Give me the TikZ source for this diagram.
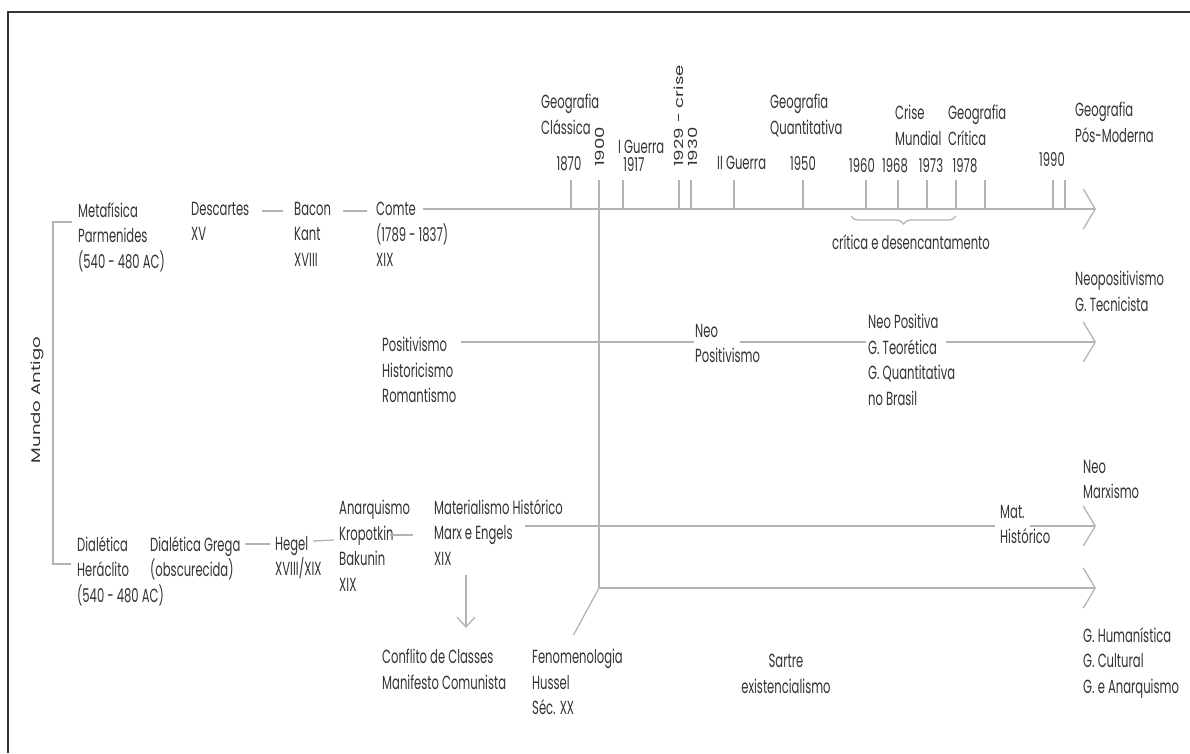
\documentclass[tikz,border=0pt]{standalone}
\usepackage{fontspec}
\setmainfont{Poppins}[FakeStretch=0.61]
\newfontfamily\vertfont{Poppins}[FakeStretch=1.45]
\usetikzlibrary{arrows.meta,calc,decorations.pathreplacing}

\definecolor{ink}{HTML}{333333}
\definecolor{rule}{HTML}{B4B4B4}

\begin{document}
\begin{tikzpicture}[x=1pt,y=-1pt,
  lbl/.style={font=\fontsize{19}{25.5}\selectfont, text=ink, inner sep=0pt, align=left, anchor=north west},
  yr/.style={lbl, anchor=center},
  vlbl/.style={font=\vertfont\fontsize{12.5}{15}\selectfont, text=ink, inner sep=0pt, rotate=90, anchor=west},
  ln/.style={draw=rule, line width=1.3pt},
  arr/.style={ln, -{Straight Barb[length=12pt,width=40pt,line width=1.3pt]}},
  darr/.style={ln, -{Straight Barb[length=10pt,width=18pt,line width=1.3pt]}}]
\useasboundingbox (0,0) rectangle (1190,753);

% frame
\draw[black!80, line width=2.2pt] (1190,12) -- (8,12) -- (8,753);

% Mundo Antigo and its two branches
\node[vlbl, anchor=center] (mundo) at (37,400) {Mundo Antigo};
\node[lbl] (meta) at (78,202) {Metafísica\\Parmenides\\(540 - 480 AC)};
\node[lbl] (dial) at (77,536) {Dialética\\Heráclito\\(540 - 480 AC)};
\draw[ln] ($(meta.north west)+(-6,20)$) -- ++(-19,0) |- ($(dial.north west)+(-6,28)$);

% top branch
\node[lbl] (desc) at (191,202) {Descartes\\XV};
\node[lbl] (bacon) at (294,202) {Bacon\\Kant\\XVIII};
\node[lbl] (comte) at (376,202) {Comte\\(1789 - 1837)\\XIX};
\draw[ln] ($(desc.north east)+(13,9)$) -- ($(bacon.north west)+(-11,9)$);
\draw[ln] ($(bacon.north east)+(12,9)$) -- ($(comte.north west)+(-9,9)$);

% time axis
\coordinate (t0) at (423,209);
\coordinate (t1) at (1096,209);
\draw[arr] (t0) -- (t1);
\foreach \x in {571,623,679,691,734,803,866,898,927,956,985,1053,1065}
  \draw[ln] (\x,180) -- (\x,209);

% labels above the axis
\node[lbl] (gclas) at (541,94) {Geografia\\Clássica};
\node[yr] (y1870) at (569,164) {1870};
\node[vlbl] (y1900) at (600,167) {1900};
\node[lbl, anchor=west] (guerra1) at (618,147) {I Guerra};
\node[yr] (y1917) at (634,165) {1917};
\node[vlbl] (crise) at (679,167) {1929 - crise};
\node[vlbl] (y1930) at (693,167) {1930};
\node[lbl, anchor=west] (guerra2) at (717,163) {II Guerra};
\node[lbl] (gquant) at (770,94) {Geografia\\Quantitativa};
\node[yr] (y1950) at (803,164) {1950};
\node[yr] (y1960) at (862,166) {1960};
\node[yr] (y1968) at (895,166) {1968};
\node[yr] (y1973) at (931,166) {1973};
\node[yr] (y1978) at (965,166) {1978};
\node[lbl] (crisem) at (895,105) {Crise\\Mundial};
\node[lbl] (gcrit) at (948,105) {Geografia\\Crítica};
\node[yr] (y1990) at (1052,160) {1990};
\node[lbl] (gpos) at (1075,102) {Geografia\\Pós-Moderna};

% brace under the axis
\draw[ln, decorate, decoration={brace, mirror, amplitude=8pt}] (851,216) -- (956,216);
\node[lbl, anchor=center] (desenc) at (911,242) {crítica e desencantamento};

% 1900 line down to the lower axis
\coordinate (v0) at (599,180);
\coordinate (v1) at (599,588);
\coordinate (h1) at (1096,588);
\draw[ln] (v0) -- (v1);
\draw[arr] (v1) -- (h1);

% middle branch
\node[lbl] (posit) at (382,337) {Positivismo\\Historicismo\\Romantismo};
\node[lbl] (neop) at (695,324) {Neo\\Positivismo};
\node[lbl] (npos) at (868,314) {Neo Positiva\\G. Teorética\\G. Quantitativa\\no Brasil};
\node[lbl] (tecn) at (1075,271) {Neopositivismo\\G. Tecnicista};
\coordinate (m1) at (1096,342);
\draw[ln] ($(posit.north east)+(4,5)$) -- ($(neop.north west)+(-1,18)$);
\draw[ln] ($(neop.north west)+(45,18)$) -- ($(npos.north west)+(-2,28)$);
\draw[arr] ($(npos.north west)+(78,28)$) -- (m1);

% lower branch
\node[lbl] (dgre) at (150,536) {Dialética Grega\\(obscurecida)};
\node[lbl] (hegel) at (275,536) {Hegel\\XVIII/XIX};
\node[lbl] (anarq) at (339,500) {Anarquismo\\Kropotkin\\Bakunin\\XIX};
\node[lbl] (mathist) at (434,499) {Materialismo Histórico\\Marx e Engels\\XIX};
\draw[ln] ($(dgre.north east)+(4,8)$) -- ($(hegel.north west)+(-5,8)$);
\draw[ln] ($(hegel.north west)+(38,5)$) -- ($(anarq.north west)+(-5,40)$);
\draw[ln] ($(anarq.north west)+(51,35)$) -- ($(mathist.north west)+(-21,36)$);

\node[lbl] (mat) at (1000,505) {Mat.\\Histórico};
\node[lbl] (neomarx) at (1083,460) {Neo\\Marxismo};
\coordinate (k1) at (1096,526);
\draw[ln] ($(mathist.north west)+(91,27)$) -- ($(mat.north west)+(-5,21)$);
\draw[arr] ($(mat.north west)+(30,21)$) -- (k1);

\node[lbl] (conflito) at (382,649) {Conflito de Classes\\Manifesto Comunista};
\draw[darr] ($(mathist.south west)+(32,10)$) -- ($(conflito.north west)+(84,-21)$);

\node[lbl] (feno) at (532,649) {Fenomenologia\\Hussel\\Séc. XX};
\draw[ln] (v1) -- ($(feno.north)+(-4,-14)$);
\node[lbl, anchor=north, align=center] (sartre) at (786,654) {Sartre\\existencialismo};
\node[lbl] (ghum) at (1083,627) {G. Humanística\\G. Cultural\\G. e Anarquismo};
\end{tikzpicture}
\end{document}
